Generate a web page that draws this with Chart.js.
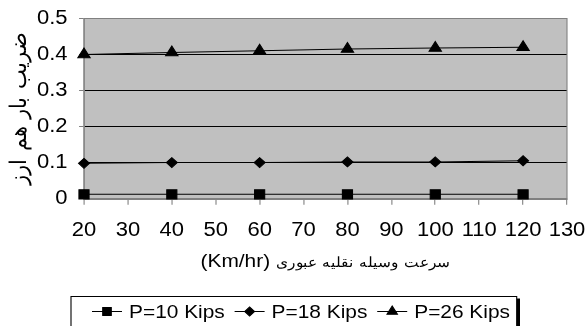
<!DOCTYPE html>
<html>
<head>
<meta charset="utf-8">
<script src="https://cdn.jsdelivr.net/npm/chart.js@4/dist/chart.umd.min.js"></script>
<style>
  /* Arabic letters come from the installed DejaVu Sans, a little smaller than the Latin text */
  @font-face {
    font-family: "ArabicText";
    src: local("DejaVu Sans"), local("DejaVuSans");
    size-adjust: 75%;
    unicode-range: U+0600-06FF, U+0750-077F, U+FB50-FDFF, U+FE70-FEFF;
  }
  html, body { margin: 0; padding: 0; background: #fff; overflow: hidden; }
  canvas { display: block; }
</style>
</head>
<body>
<canvas id="c"></canvas>
<script>
// Speed of the passing vehicle (km/h) and equivalent load factor per axle load
const speeds = [20, 40, 60, 80, 100, 120];
const seriesLabels = ['P=10 Kips', 'P=18 Kips', 'P=26 Kips'];
const p10 = [0.012, 0.012, 0.012, 0.012, 0.012, 0.012];
const p18 = [0.098, 0.100, 0.100, 0.102, 0.102, 0.105];
const p26 = [0.400, 0.405, 0.410, 0.415, 0.418, 0.420];
const xTicks = [20, 30, 40, 50, 60, 70, 80, 90, 100, 110, 120, 130];
const yTicks = [0, 0.1, 0.2, 0.3, 0.4, 0.5];
const yTickLabels = ['0', '0.1', '0.2', '0.3', '0.4', '0.5'];
const xTitle = '(Km/hr) سرعت وسیله نقلیه عبوری';
const yTitle = 'ضریب بار هم ارز';

// Output size; the drawing is laid out narrower and stretched horizontally to fill it
const OUT_W = 587, OUT_H = 326;
const LW = Math.round(OUT_W / 1.1);
const sx = OUT_W / LW;
const L = (px) => px / sx;   // real horizontal pixels -> layout units

const FONT = '"ArabicText", "Liberation Sans", Arial, "DejaVu Sans", sans-serif';
Chart.defaults.font.family = FONT;
Chart.defaults.color = '#000';

// Plot frame in real pixels
const PLOT = { left: 84, right: 567, top: 18.3, bottom: 198.7 };

const framePlugin = {
  id: 'frame',
  beforeDraw(chart) {
    const ctx = chart.ctx;
    ctx.setTransform(sx, 0, 0, 1, 0, 0);
    const a = chart.chartArea;
    ctx.save();
    ctx.fillStyle = '#fff';
    ctx.fillRect(0, 0, LW, OUT_H);
    ctx.fillStyle = '#c0c0c0';
    ctx.fillRect(a.left, a.top, a.right - a.left, a.bottom - a.top);
    ctx.restore();
  },
  beforeDatasetsDraw(chart) {
    const ctx = chart.ctx;
    const a = chart.chartArea;
    ctx.save();
    ctx.strokeStyle = '#808080';
    ctx.lineWidth = 1;
    ctx.strokeRect(a.left, Math.round(a.top) + 0.5, a.right - a.left, Math.round(a.bottom) - Math.round(a.top));
    ctx.restore();
  }
};

// Boxed legend below the axis title: a short line with the series marker, then the label
const LEGEND = { left: 71, right: 520, top: 296.5, cy: 311.5, firstSeg: 92, segLen: 30, textGap: 7, font: 19 };
const legendPlugin = {
  id: 'boxLegend',
  afterDraw(chart) {
    const ctx = chart.ctx;
    const bottom = 340;
    ctx.save();
    ctx.font = LEGEND.font + 'px ' + FONT;
    ctx.textBaseline = 'middle';
    ctx.textAlign = 'left';
    const items = chart.data.datasets;
    const widths = items.map(ds => ctx.measureText(ds.label).width);
    const seg = L(LEGEND.segLen), tg = L(LEGEND.textGap);
    const start = L(LEGEND.firstSeg);
    const endLimit = L(LEGEND.right - 10);
    const used = widths.reduce((s, w) => s + seg + tg + w, 0);
    const gap = (endLimit - start - used) / (items.length - 1);
    let x = start;
    items.forEach((ds, i) => {
      ctx.strokeStyle = '#000';
      ctx.fillStyle = '#000';
      ctx.lineWidth = 1;
      ctx.beginPath();
      ctx.moveTo(x, LEGEND.cy);
      ctx.lineTo(x + seg, LEGEND.cy);
      ctx.stroke();
      Chart.helpers.drawPoint(ctx, {
        pointStyle: ds.pointStyle, radius: ds.legendRadius, rotation: 0, borderWidth: 1
      }, x + seg / 2, LEGEND.cy);
      const tx = x + seg + tg;
      ctx.fillText(ds.label, tx, LEGEND.cy + 1);
      x = tx + widths[i] + gap;
    });
    const left = L(LEGEND.left), right = L(LEGEND.right) - 3;
    ctx.strokeStyle = '#000';
    ctx.lineWidth = 1;
    ctx.strokeRect(left, LEGEND.top, right - left, bottom - LEGEND.top);
    ctx.fillRect(right, LEGEND.top + 2, 3, bottom - LEGEND.top);
    ctx.restore();
  }
};

function series(label, values, style, radius, legendRadius) {
  return {
    label,
    data: speeds.map((s, i) => ({ x: s, y: values[i] })),
    borderColor: '#000',
    backgroundColor: '#000',
    borderWidth: 1,
    pointStyle: style,
    pointRadius: radius,
    pointHoverRadius: radius,
    pointBorderWidth: 1,
    pointBorderColor: '#000',
    pointBackgroundColor: '#000',
    legendRadius,
    tension: 0,
    clip: false
  };
}

const canvas = document.getElementById('c');
canvas.width = LW;
canvas.height = OUT_H;

const TICK_FONT = 20;
const X_TITLE_FONT = 19;
const Y_TITLE_FONT = 28;
const xAxisHeight = (261.7 + X_TITLE_FONT * 0.6) - PLOT.bottom;

const chart = new Chart(canvas, {
  type: 'line',
  data: {
    datasets: [
      series(seriesLabels[0], p10, 'rect', 6.5, 5.5),
      series(seriesLabels[1], p18, 'rectRot', 5, 4.5),
      series(seriesLabels[2], p26, 'triangle', 6.5, 5.5)
    ]
  },
  options: {
    responsive: false,
    animation: false,
    devicePixelRatio: 1,
    layout: {
      padding: {
        top: PLOT.top,
        right: LW - L(PLOT.right),
        bottom: OUT_H - PLOT.bottom - xAxisHeight,
        left: 0
      }
    },
    plugins: { legend: { display: false }, tooltip: { enabled: false } },
    scales: {
      x: {
        type: 'linear',
        min: 20,
        max: 130,
        afterBuildTicks: (s) => { s.ticks = xTicks.map(v => ({ value: v })); },
        afterFit: (s) => { s.height = xAxisHeight; s.paddingLeft = 0; s.paddingRight = 0; },
        ticks: {
          font: { size: TICK_FONT },
          color: '#000',
          padding: 31.3 - 6 - TICK_FONT * 0.6,
          maxRotation: 0,
          autoSkip: false,
          callback: (v, i) => String(xTicks[i])
        },
        grid: { drawOnChartArea: false, tickLength: 6, color: '#808080', tickColor: '#808080' },
        border: { color: '#808080' },
        title: { display: true, text: xTitle, font: { size: X_TITLE_FONT }, color: '#000', padding: { top: 0, bottom: 0 } }
      },
      y: {
        min: 0,
        max: 0.5,
        afterBuildTicks: (s) => { s.ticks = yTicks.map(v => ({ value: v })); },
        afterFit: (s) => { s.width = L(PLOT.left); s.paddingTop = 0; s.paddingBottom = 0; },
        ticks: {
          font: { size: TICK_FONT },
          color: '#000',
          padding: L(PLOT.left - 67.5) - 4.5,
          callback: (v, i) => yTickLabels[i]
        },
        grid: {
          color: (c) => (c.tick && (c.tick.value === 0 || c.tick.value === 0.5)) ? '#808080' : '#000',
          tickColor: '#808080',
          tickLength: 4.5,
          lineWidth: 1
        },
        border: { color: '#808080' },
        title: {
          display: true, text: yTitle, font: { size: Y_TITLE_FONT }, color: '#000',
          padding: { top: L(17.5) - Y_TITLE_FONT * 0.6, bottom: 0 }
        }
      }
    }
  },
  plugins: [framePlugin, legendPlugin]
});

// Widen the bitmap to the output size; the frame plugin stretches the drawing to fill it
canvas.width = OUT_W;
canvas.style.width = OUT_W + 'px';
canvas.style.height = OUT_H + 'px';
chart.draw();
document.fonts.load('20px "ArabicText"', 'ضریب').then(() => chart.draw(), () => {});
</script>
</body>
</html>
